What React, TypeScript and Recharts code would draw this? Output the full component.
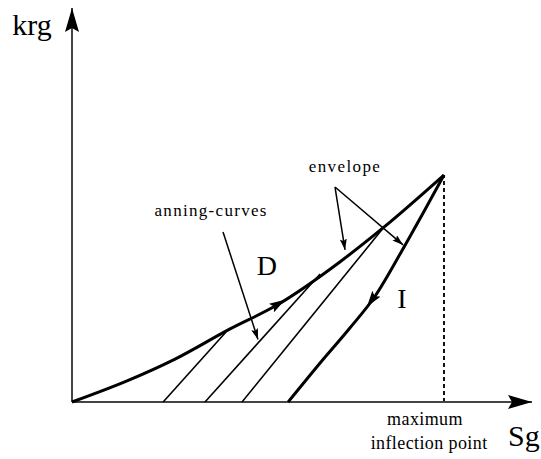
import React from 'react';
import { ComposedChart, Line, XAxis, YAxis, ReferenceDot } from 'recharts';

// Gas relative permeability (krg) versus gas saturation (Sg), hysteresis sketch.
// Units: Sg and krg are scaled so the maximum inflection point sits at (100, 100).

const SG_MAX = 123.66;
const KRG_MAX = 173.57;

// Drainage envelope (D), from the origin up to the maximum inflection point
const envelope = [
  { sg: 0, krg: 0 },
  { sg: 14.8, krg: 9.3 },
  { sg: 27.7, krg: 18.9 },
  { sg: 42.5, krg: 32.2 },
  { sg: 55.1, krg: 42.7 },
  { sg: 72.0, krg: 61.7 },
  { sg: 83.6, krg: 76.7 },
  { sg: 100, krg: 100 },
];

// Imbibition curve (I), leaving the maximum inflection point
const imbibition = [
  { sg: 58.1, krg: 0 },
  { sg: 66.7, krg: 17.2 },
  { sg: 74.7, krg: 32.6 },
  { sg: 81.5, krg: 46.7 },
  { sg: 88.2, krg: 65.2 },
  { sg: 94.1, krg: 82.4 },
  { sg: 100, krg: 100 },
];

// Scanning curves between the two
const scan1 = [
  { sg: 24.5, krg: 0 },
  { sg: 41.4, krg: 30.8 },
];
const scan2 = [
  { sg: 35.75, krg: 0 },
  { sg: 66.7, krg: 56.4 },
];
const scan3 = [
  { sg: 45.7, krg: 0 },
  { sg: 84.1, krg: 77.5 },
];

// Maximum inflection point drop line
const maxPointDrop = [
  { sg: 100, krg: 0 },
  { sg: 100, krg: 100 },
];

// Axes with arrow tips
const sgAxis = [
  { sg: 0, krg: 0 },
  { sg: SG_MAX, krg: 0 },
];
const krgAxis = [
  { sg: 0, krg: 0 },
  { sg: 0, krg: KRG_MAX },
];

// Direction arrows sitting on the curves (only the heads are drawn)
const envelopeDirection = [
  { sg: 53.2, krg: 41.0 },
  { sg: 57.3, krg: 45.0 },
];
const imbibitionDirection = [
  { sg: 82.4, krg: 49.0 },
  { sg: 79.3, krg: 42.0 },
];

// Leader arrows for the annotations
const envelopeLeaderA = [
  { sg: 70.7, krg: 94.7 },
  { sg: 73.4, krg: 67.0 },
];
const envelopeLeaderB = [
  { sg: 70.7, krg: 94.7 },
  { sg: 89.0, krg: 69.2 },
];
const scanLeader = [
  { sg: 40.6, krg: 74.9 },
  { sg: 50.0, krg: 27.5 },
];

const SERIF = "'Liberation Serif', 'Times New Roman', serif";

const textAt =
  (text: string, size: number, spacing = 0) =>
  (props: any) => {
    const vb = props.viewBox || {};
    const x = (vb.x ?? 0) + (vb.width ?? 0) / 2;
    const y = (vb.y ?? 0) + (vb.height ?? 0) / 2;
    return (
      <text
        x={x}
        y={y}
        textAnchor="middle"
        fontFamily={SERIF}
        fontSize={size}
        letterSpacing={spacing}
        fill="#000"
      >
        {text}
      </text>
    );
  };

export default function App() {
  const plain = {
    dot: false,
    activeDot: false,
    isAnimationActive: false,
    legendType: 'none' as const,
  };
  return (
    <div style={{ position: 'absolute', left: 0, top: 0, background: '#fff' }}>
      <svg width={0} height={0} style={{ position: 'absolute' }}>
        <defs>
          <marker
            id="head-axis"
            markerUnits="userSpaceOnUse"
            viewBox="0 0 24 14"
            markerWidth={24}
            markerHeight={14}
            refX={24}
            refY={7}
            orient="auto"
          >
            <path d="M0,0 L24,7 L0,14 L4,7 Z" fill="#000" />
          </marker>
          <marker
            id="head-curve"
            markerUnits="userSpaceOnUse"
            viewBox="0 0 16 10"
            markerWidth={16}
            markerHeight={10}
            refX={16}
            refY={5}
            orient="auto"
          >
            <path d="M0,0 L16,5 L0,10 L3,5 Z" fill="#000" />
          </marker>
          <marker
            id="head-small"
            markerUnits="userSpaceOnUse"
            viewBox="0 0 11 7"
            markerWidth={11}
            markerHeight={7}
            refX={11}
            refY={3.5}
            orient="auto"
          >
            <path d="M0,0 L11,3.5 L0,7 L2,3.5 Z" fill="#000" />
          </marker>
        </defs>
      </svg>
      <ComposedChart
        width={541}
        height={459}
        margin={{ top: 8, right: 9, bottom: 57, left: 72 }}
      >
        <XAxis dataKey="sg" type="number" domain={[0, SG_MAX]} hide />
        <YAxis dataKey="krg" type="number" domain={[0, KRG_MAX]} hide />

        <Line data={maxPointDrop} dataKey="krg" type="linear" stroke="#111" strokeWidth={2} strokeDasharray="4 3" {...plain} />

        <Line data={sgAxis} dataKey="krg" type="linear" stroke="#444" strokeWidth={2} markerEnd="url(#head-axis)" {...plain} />
        <Line data={krgAxis} dataKey="krg" type="linear" stroke="#444" strokeWidth={2} markerEnd="url(#head-axis)" {...plain} />

        <Line data={scan1} dataKey="krg" type="linear" stroke="#000" strokeWidth={1.6} {...plain} />
        <Line data={scan2} dataKey="krg" type="linear" stroke="#000" strokeWidth={1.6} {...plain} />
        <Line data={scan3} dataKey="krg" type="linear" stroke="#000" strokeWidth={1.6} {...plain} />

        <Line data={envelope} dataKey="krg" type="monotone" stroke="#000" strokeWidth={3} {...plain} />
        <Line data={imbibition} dataKey="krg" type="monotone" stroke="#000" strokeWidth={3} {...plain} />

        <Line data={envelopeDirection} dataKey="krg" type="linear" stroke="#000" strokeOpacity={0} strokeWidth={1} markerEnd="url(#head-curve)" {...plain} />
        <Line data={imbibitionDirection} dataKey="krg" type="linear" stroke="#000" strokeOpacity={0} strokeWidth={1} markerEnd="url(#head-curve)" {...plain} />

        <Line data={envelopeLeaderA} dataKey="krg" type="linear" stroke="#000" strokeWidth={1.5} markerEnd="url(#head-small)" {...plain} />
        <Line data={envelopeLeaderB} dataKey="krg" type="linear" stroke="#000" strokeWidth={1.5} markerEnd="url(#head-small)" {...plain} />
        <Line data={scanLeader} dataKey="krg" type="linear" stroke="#000" strokeWidth={1.5} markerEnd="url(#head-small)" {...plain} />

        <ReferenceDot x={-10.75} y={161.5} r={0} fill="none" stroke="none" ifOverflow="visible" label={textAt('krg', 30)} />
        <ReferenceDot x={121.5} y={-19.4} r={0} fill="none" stroke="none" ifOverflow="visible" label={textAt('Sg', 30)} />
        <ReferenceDot x={73.4} y={101.3} r={0} fill="none" stroke="none" ifOverflow="visible" label={textAt('envelope', 17, 1.4)} />
        <ReferenceDot x={37.4} y={81.9} r={0} fill="none" stroke="none" ifOverflow="visible" label={textAt('anning-curves', 17, 1.3)} />
        <ReferenceDot x={52.4} y={55.9} r={0} fill="none" stroke="none" ifOverflow="visible" label={textAt('D', 28)} />
        <ReferenceDot x={88.7} y={41.4} r={0} fill="none" stroke="none" ifOverflow="visible" label={textAt('I', 28)} />
        <ReferenceDot x={94.9} y={-10.1} r={0} fill="none" stroke="none" ifOverflow="visible" label={textAt('maximum', 18, 0.4)} />
        <ReferenceDot x={96.0} y={-20.7} r={0} fill="none" stroke="none" ifOverflow="visible" label={textAt('inflection point', 18, 0.4)} />
      </ComposedChart>
    </div>
  );
}
